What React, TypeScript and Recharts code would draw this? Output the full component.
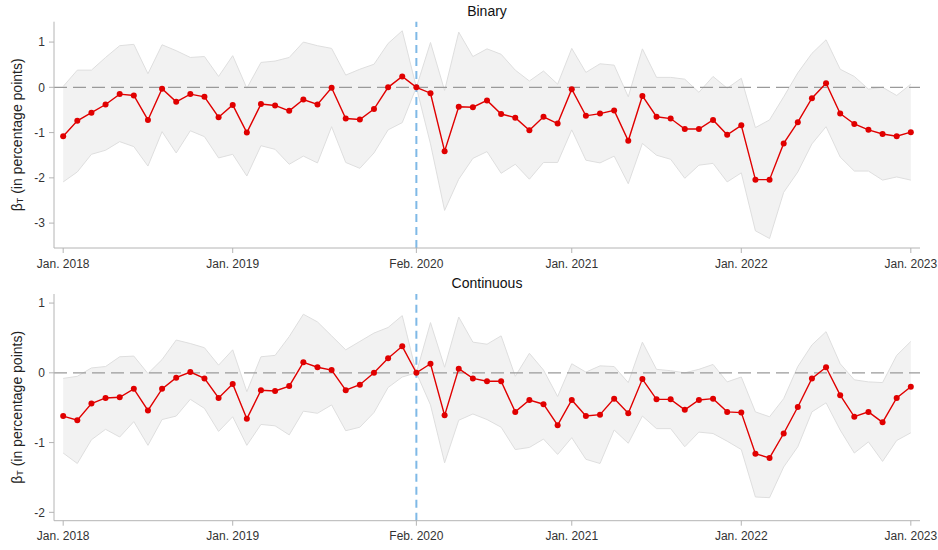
import {
  ComposedChart,
  Area,
  Line,
  XAxis,
  YAxis,
  ReferenceLine,
} from "recharts";

// month index 0 = Jan. 2018 ... 60 = Jan. 2023, reference month 25 = Feb. 2020
const tickMonths = [0, 12, 25, 36, 48, 60];
const tickLabels = ["Jan. 2018", "Jan. 2019", "Feb. 2020", "Jan. 2021", "Jan. 2022", "Jan. 2023"];

const binaryCoef = [
  -1.08, -0.74, -0.56, -0.38, -0.15, -0.18, -0.72, -0.03, -0.32, -0.15,
  -0.21, -0.66, -0.39, -1.0, -0.37, -0.4, -0.52, -0.27, -0.38, -0.01,
  -0.69, -0.71, -0.48, 0.0, 0.24, 0, -0.13, -1.41, -0.43, -0.44,
  -0.29, -0.59, -0.67, -0.95, -0.65, -0.8, -0.04, -0.63, -0.58, -0.51,
  -1.18, -0.19, -0.65, -0.69, -0.92, -0.92, -0.72, -1.05, -0.84, -2.04,
  -2.04, -1.24, -0.77, -0.24, 0.09, -0.58, -0.81, -0.94, -1.03, -1.08, -0.99,
];
const binaryUpper = [
  0.02, 0.38, 0.38, 0.66, 0.92, 0.95, 0.3, 0.94, 0.81, 0.66,
  0.68, 0.24, 0.7, -0.02, 0.55, 0.58, 0.66, 1.0, 0.92, 0.86,
  0.27, 0.4, 0.51, 0.97, 1.25, 0, 0.99, -0.07, 1.22, 0.68,
  0.85, 0.73, 0.38, 0.14, 0.36, 0.07, 0.86, 0.33, 0.52, 0.49,
  -0.21, 0.85, 0.22, 0.22, 0.18, -0.11, 0.24, -0.02, 0.2, -0.89,
  -0.72, -0.21, 0.32, 0.75, 1.05, 0.4, 0.24, -0.04, 0.0, -0.18, 0.07,
];
const binaryLower = [
  -2.09, -1.87, -1.48, -1.39, -1.2, -1.31, -1.74, -0.98, -1.45, -0.96,
  -1.09, -1.56, -1.48, -1.96, -1.29, -1.37, -1.7, -1.52, -1.67, -0.87,
  -1.66, -1.79, -1.45, -0.94, -0.78, 0, -1.25, -2.72, -2.03, -1.57,
  -1.42, -1.9, -1.7, -2.03, -1.66, -1.66, -0.94, -1.61, -1.67, -1.52,
  -2.13, -1.24, -1.5, -1.59, -2.01, -1.72, -1.68, -2.09, -1.89, -3.17,
  -3.34, -2.32, -1.87, -1.25, -0.87, -1.54, -1.85, -1.85, -2.05, -1.98, -2.05,
];

const contCoef = [
  -0.62, -0.68, -0.44, -0.36, -0.35, -0.23, -0.54, -0.23, -0.07, 0.01,
  -0.08, -0.36, -0.16, -0.66, -0.25, -0.26, -0.19, 0.15, 0.08, 0.04,
  -0.25, -0.17, 0.0, 0.21, 0.38, 0, 0.13, -0.61, 0.06, -0.08,
  -0.12, -0.12, -0.56, -0.39, -0.45, -0.75, -0.39, -0.62, -0.6, -0.37,
  -0.58, -0.09, -0.38, -0.38, -0.53, -0.39, -0.37, -0.56, -0.57, -1.16,
  -1.22, -0.87, -0.49, -0.08, 0.08, -0.32, -0.63, -0.56, -0.71, -0.36, -0.2,
];
const contUpper = [
  -0.08, -0.05, 0.07, 0.09, 0.23, 0.24, -0.01, 0.19, 0.47, 0.42,
  0.36, 0.11, 0.33, -0.27, 0.23, 0.25, 0.52, 0.84, 0.73, 0.53,
  0.33, 0.45, 0.57, 0.65, 0.82, 0, 0.72, 0.08, 0.8, 0.44,
  0.41, 0.53, -0.05, 0.28, 0.04, -0.34, 0.13, 0.01, 0.1, 0.09,
  -0.14, 0.44, 0.05, 0.03, 0.0, 0.05, 0.12, -0.13, -0.06, -0.56,
  -0.63, -0.37, 0.09, 0.4, 0.59, 0.13, -0.1, -0.13, -0.14, 0.25, 0.45,
];
const contLower = [
  -1.15, -1.3, -0.96, -0.81, -0.92, -0.7, -1.04, -0.67, -0.62, -0.38,
  -0.51, -0.84, -0.63, -1.04, -0.74, -0.76, -0.89, -0.55, -0.58, -0.46,
  -0.83, -0.78, -0.57, -0.21, -0.06, 0, -0.46, -1.29, -0.68, -0.59,
  -0.67, -0.78, -1.1, -1.07, -0.95, -1.17, -0.93, -1.24, -1.3, -0.82,
  -1.01, -0.62, -0.8, -0.8, -1.06, -0.85, -0.87, -0.98, -1.1, -1.78,
  -1.79, -1.35, -1.06, -0.56, -0.43, -0.82, -1.15, -0.99, -1.27, -0.97, -0.86,
];

const FONT = '"Liberation Sans", Arial, sans-serif';
const AXIS = "#b4b4b4";

function buildRows(coef: number[], lo: number[], hi: number[]) {
  return coef.map((c, i) => ({ i, coef: c, band: [lo[i], hi[i]] }));
}

function YLabel({ viewBox }: any) {
  const cx = 17.5;
  const cy = viewBox.y + viewBox.height / 2;
  return (
    <text
      x={cx}
      y={cy}
      transform={`rotate(-90, ${cx}, ${cy})`}
      textAnchor="middle"
      dominantBaseline="central"
      fontSize={14}
      fontFamily={FONT}
      fill="#222"
    >
      β<tspan fontSize={9} dy={3}>T</tspan>
      <tspan dy={-3}> (in percentage points)</tspan>
    </text>
  );
}

function Panel({
  title,
  rows,
  top,
  height,
  marginTop,
  xAxisHeight,
  yDomain,
  yTicks,
}: {
  title: string;
  rows: { i: number; coef: number; band: number[] }[];
  top: number;
  height: number;
  marginTop: number;
  xAxisHeight: number;
  yDomain: [number, number];
  yTicks: number[];
}) {
  return (
    <div style={{ position: "absolute", left: 0, top, width: 938, height }}>
      <div
        style={{
          position: "absolute",
          left: 54,
          width: 866,
          top: marginTop - 18,
          textAlign: "center",
          fontFamily: FONT,
          fontSize: 14,
          lineHeight: "14px",
          color: "#111",
        }}
      >
        {title}
      </div>
      <ComposedChart
        width={938}
        height={height}
        data={rows}
        margin={{ top: marginTop, right: 18, left: 0, bottom: 0 }}
      >
        <XAxis
          dataKey="i"
          type="number"
          domain={[-0.65, 60.65]}
          allowDataOverflow
          ticks={tickMonths}
          interval={0}
          height={xAxisHeight}
          tickFormatter={(v: number) => tickLabels[tickMonths.indexOf(v)] ?? ""}
          stroke={AXIS}
          tickSize={5}
          tickMargin={6}
          tick={{ fill: "#333", fontSize: 12, fontFamily: FONT }}
        />
        <YAxis
          type="number"
          domain={yDomain}
          allowDataOverflow
          ticks={yTicks}
          width={54}
          stroke={AXIS}
          tickSize={5}
          tickMargin={4}
          tick={{ fill: "#333", fontSize: 12, fontFamily: FONT }}
          label={{ content: (p: any) => <YLabel {...p} /> }}
        />
        <Area
          type="linear"
          dataKey="band"
          fill="#f2f2f2"
          fillOpacity={1}
          stroke="#dedede"
          strokeWidth={1}
          isAnimationActive={false}
          activeDot={false}
        />
        <ReferenceLine y={0} stroke="#9a9a9a" strokeWidth={1.2} strokeDasharray="13 6" />
        <ReferenceLine x={25} stroke="#7fb9e6" strokeWidth={2} strokeDasharray="8 5" />
        <Line
          type="linear"
          dataKey="coef"
          stroke="#e00000"
          strokeWidth={1.4}
          dot={{ r: 3, fill: "#e00000", stroke: "none" }}
          activeDot={false}
          isAnimationActive={false}
        />
      </ComposedChart>
    </div>
  );
}

export default function App() {
  return (
    <div style={{ position: "absolute", left: 0, top: 0, width: 938, height: 550, background: "#fff" }}>
      <Panel
        title="Binary"
        rows={buildRows(binaryCoef, binaryLower, binaryUpper)}
        top={0}
        height={270}
        marginTop={21.7}
        xAxisHeight={22}
        yDomain={[-3.55, 1.45]}
        yTicks={[-3, -2, -1, 0, 1]}
      />
      <Panel
        title="Continuous"
        rows={buildRows(contCoef, contLower, contUpper)}
        top={270}
        height={280}
        marginTop={24}
        xAxisHeight={29.3}
        yDomain={[-2.12, 1.13]}
        yTicks={[-2, -1, 0, 1]}
      />
    </div>
  );
}
